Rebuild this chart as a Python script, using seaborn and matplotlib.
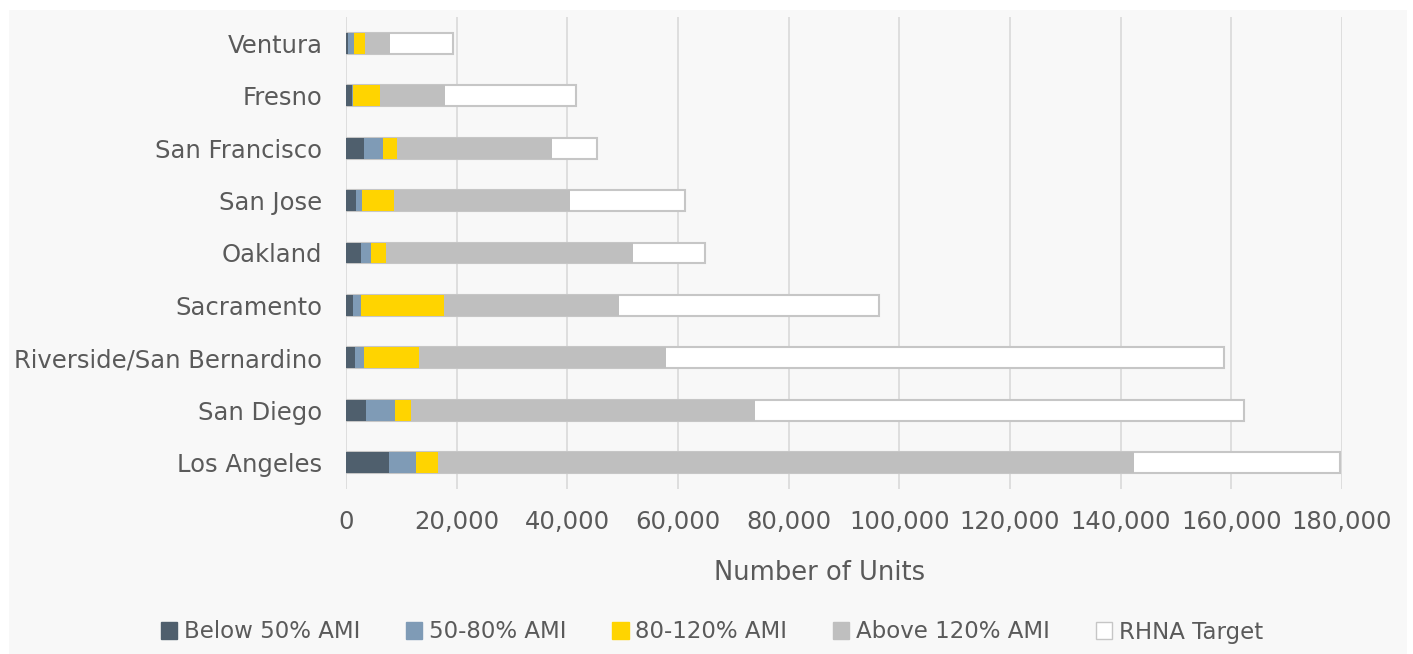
import pandas as pd
import matplotlib.pyplot as plt
import seaborn as sns
from matplotlib.patches import Patch, Rectangle

# data (units)
regions = ['Ventura', 'Fresno', 'San Francisco', 'San Jose', 'Oakland',
           'Sacramento', 'Riverside/San Bernardino', 'San Diego', 'Los Angeles']
below_50 = [300, 1000, 3300, 1800, 2700, 1300, 1600, 3600, 7800]
ami_50_80 = [1150, 200, 3450, 1150, 1750, 1500, 1700, 5250, 4850]
ami_80_120 = [1950, 4950, 2550, 5750, 2750, 14900, 9900, 2850, 3950]
above_120 = [4550, 11750, 27900, 31800, 44700, 31600, 44600, 62200, 125800]
rhna_rest = [11350, 23700, 8200, 20800, 12900, 47000, 100900, 88400, 37200]

series = ['Below 50% AMI', '50-80% AMI', '80-120% AMI', 'Above 120% AMI', 'RHNA Target']
colors = ['#4f5f6d', '#7f9bb6', '#ffd400', '#bfbfbf', '#ffffff']

df = pd.DataFrame({'region': regions, 'Below 50% AMI': below_50, '50-80% AMI': ami_50_80,
                   '80-120% AMI': ami_80_120, 'Above 120% AMI': above_120, 'RHNA Target': rhna_rest})
# cumulative ends for stacking
cum = df[series].cumsum(axis=1)
cum['region'] = df['region']

text_col = '#5a5a5a'
grid_col = '#d9d9d9'
panel_col = '#f8f8f8'

plt.rcParams['font.family'] = ['DejaVu Sans']

fig = plt.figure(figsize=(14.13, 6.54), dpi=100, facecolor='white')
fig.patches.append(Rectangle((9 / 1413, 0), 1398 / 1413, 1 - 10 / 654,
                             transform=fig.transFigure, facecolor=panel_col,
                             edgecolor='none', zorder=-10))
ax = fig.add_axes([346 / 1413, 1 - 489 / 654, 996 / 1413, 472 / 654])
ax.set_facecolor(panel_col)

# draw from the total down so each shorter layer sits on top
for s, c in reversed(list(zip(series, colors))):
    if s == 'RHNA Target':
        sns.barplot(data=cum, x=s, y='region', order=regions, orient='h', color=c,
                    width=0.4, edgecolor='#c6c6c6', linewidth=1.5, saturation=1, ax=ax)
    else:
        sns.barplot(data=cum, x=s, y='region', order=regions, orient='h', color=c,
                    width=0.4, linewidth=0, saturation=1, ax=ax)

ax.set_xlim(0, 180000)
ax.set_ylim(len(regions) - 0.5, -0.5)
ax.set_xticks(range(0, 180001, 20000))
ax.set_xticklabels([f'{v:,}' for v in range(0, 180001, 20000)])
ax.xaxis.grid(True, color=grid_col, linewidth=1.2)
ax.set_axisbelow(True)
for sp in ax.spines.values():
    sp.set_visible(False)
ax.tick_params(axis='both', length=0, labelsize=17.5, colors=text_col)
ax.tick_params(axis='y', pad=17)
ax.tick_params(axis='x', pad=15)
ax.set_xlabel('')
ax.set_ylabel('')

fig.text(820 / 1413, 1 - 573 / 654, 'Number of Units', ha='center', va='center',
         fontsize=18.5, color=text_col)

handles = [Patch(facecolor=c, edgecolor=('#c6c6c6' if s == 'RHNA Target' else c),
                 linewidth=1) for s, c in zip(series, colors)]
leg = fig.legend(handles, series, loc='center', bbox_to_anchor=(712 / 1413, 1 - 632 / 654),
                 ncol=5, frameon=False, fontsize=16.5, handlelength=0.7, handleheight=0.7,
                 handletextpad=0.3, columnspacing=2.0, labelcolor=text_col)

fig.savefig('out.png', dpi=100, facecolor='white')
